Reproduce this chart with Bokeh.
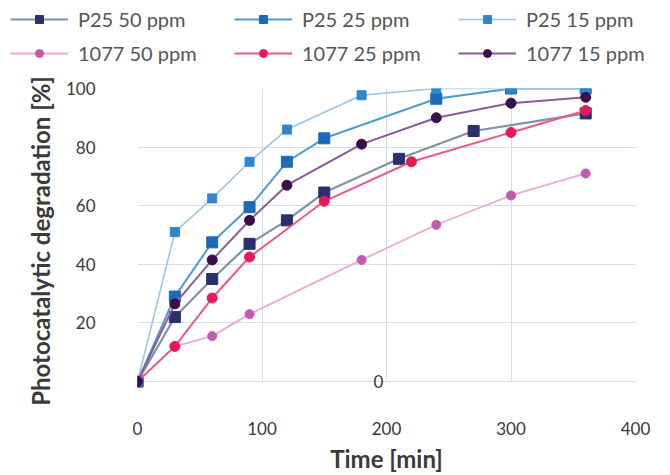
from bokeh.plotting import figure
from bokeh.models import Legend, LegendItem, FixedTicker, LinearAxis
from bokeh.layouts import column
from bokeh.embed import file_html
from bokeh.resources import INLINE

# Data (time in min, photocatalytic degradation in %)
t_p25_50 = [0, 30, 60, 90, 120, 150, 210, 270, 360]
y_p25_50 = [0, 22, 35, 47, 55, 64.5, 76, 85.5, 91.5]

t_p25_25 = [0, 30, 60, 90, 120, 150, 240, 300, 360]
y_p25_25 = [0, 29, 47.5, 59.5, 75, 83, 96.5, 100, 100]

t_p25_15 = [0, 30, 60, 90, 120, 180, 240, 300, 360]
y_p25_15 = [0, 51, 62.5, 75, 86, 97.7, 100, 100, 100]

t_1077_50 = [0, 30, 60, 90, 180, 240, 300, 360]
y_1077_50 = [0, 12, 15.5, 23, 41.5, 53.5, 63.5, 71]

t_1077_25 = [0, 30, 60, 90, 150, 220, 300, 360]
y_1077_25 = [0, 12, 28.5, 42.5, 61.5, 75, 85, 92.5]

t_1077_15 = [0, 30, 60, 90, 120, 180, 240, 300, 360]
y_1077_15 = [0, 26.5, 41.5, 55, 67, 81, 90, 95, 97]

labels = ["P25 50 ppm", "P25 25 ppm", "P25 15 ppm",
          "1077 50 ppm", "1077 25 ppm", "1077 15 ppm"]
x_ticks = [0, 100, 200, 300, 400]
y_ticks = [0, 20, 40, 60, 80, 100]
stray_zero_x = 204  # the lone "0" label drawn inside the plot near x = 200

FONT = "Lato"
TXT = "#3a3a3a"

series = [
    (t_p25_50, y_p25_50, "#7d93a6", "#2b2f6b", "square", 11, 2.2),
    (t_p25_25, y_p25_25, "#4f9bd0", "#1b6cb8", "square", 11, 2.0),
    (t_p25_15, y_p25_15, "#9cc4e6", "#2f86cc", "square", 9, 1.6),
    (t_1077_50, y_1077_50, "#eba8d6", "#c45aaa", "circle", 9, 1.8),
    (t_1077_25, y_1077_25, "#ea5a88", "#e8185c", "circle", 10, 2.0),
    (t_1077_15, y_1077_15, "#8a5a96", "#3a0f4a", "circle", 10, 2.0),
]

# ---- legend strip (its glyphs carry the series, kept out of view) ----
LEG_H = 72
lf = figure(width=670, height=LEG_H, output_backend="svg", toolbar_location=None,
            x_range=(1000, 1001), y_range=(1000, 1001), min_border=0)
lf.axis.visible = False
lf.grid.visible = False
lf.outline_line_color = None
lf.frame_align = False

items = []
for (tx, ty, lc, mc, mk, ms, lw), lab in zip(series, labels):
    r1 = lf.line(tx, ty, line_color=lc, line_width=lw)
    r2 = lf.scatter(tx, ty, marker=mk, size=ms, fill_color=mc, line_color=mc)
    items.append(LegendItem(label=lab, renderers=[r1, r2]))

legend = Legend(items=items, location=(10, 2), ncols=3,
                orientation="horizontal",
                label_text_font=FONT, label_text_font_size="20px",
                label_text_color="#555555", glyph_width=58, glyph_height=20,
                label_standoff=10, spacing=0, padding=0, margin=0,
                label_width=156, label_height=34,
                border_line_color=None, background_fill_alpha=0)
lf.add_layout(legend, "center")

# ---- main plot ----
Y0 = -4.08   # frame extends a little below 0 so the stray "0" is not cut
p = figure(width=670, height=475 - LEG_H, output_backend="svg", toolbar_location=None,
           x_range=(0, 400), y_range=(Y0, 100),
           min_border_left=137, min_border_right=35,
           min_border_top=88 - LEG_H, min_border_bottom=81)
p.frame_align = False
p.outline_line_color = None
p.background_fill_color = "white"
p.border_fill_color = "white"

p.xgrid.grid_line_color = "#d6dde4"
p.ygrid.grid_line_color = "#d6dde4"
p.xgrid.cross_bounds = (0, 100)
p.xaxis.ticker = FixedTicker(ticks=x_ticks)
p.yaxis.ticker = FixedTicker(ticks=y_ticks)
p.yaxis.major_label_overrides = {0: ""}
for ax in (p.xaxis[0], p.yaxis[0]):
    ax.axis_line_color = None
    ax.major_tick_line_color = None
    ax.minor_tick_line_color = None
    ax.major_label_text_font = FONT
    ax.major_label_text_font_size = "17px"
    ax.major_label_text_color = TXT
    ax.axis_label_text_font = FONT
    ax.axis_label_text_font_size = "24px"
    ax.axis_label_text_font_style = "bold"
    ax.axis_label_text_color = TXT
p.xaxis.major_label_standoff = 22
p.yaxis.major_label_standoff = 36
p.xaxis.axis_label = "Time [min]"
p.yaxis.axis_label = "Photocatalytic degradation [%]"
p.xaxis.axis_label_standoff = 6
p.yaxis.axis_label_standoff = 8

# stray "0" label that sits inside the plot area in the reference
zero_axis = LinearAxis(fixed_location=stray_zero_x, ticker=FixedTicker(ticks=[0]),
                       axis_line_color=None, major_tick_line_color=None,
                       minor_tick_line_color=None, major_label_standoff=2,
                       major_label_text_font=FONT, major_label_text_font_size="17px",
                       major_label_text_color=TXT)
p.add_layout(zero_axis, "left")

for (tx, ty, lc, mc, mk, ms, lw) in series:
    p.line(tx, ty, line_color=lc, line_width=lw)
    p.scatter(tx, ty, marker=mk, size=ms, fill_color=mc, line_color=mc)

layout = column(lf, p, spacing=0)
open("out.html", "w").write(file_html(layout, INLINE))
